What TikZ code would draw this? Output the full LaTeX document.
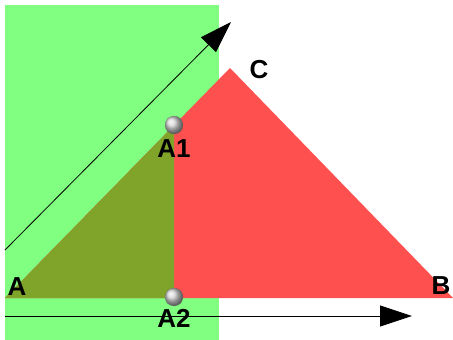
\documentclass[tikz,border=0pt]{standalone}
\usepackage{fontspec}
\setmainfont{Liberation Sans}
\usetikzlibrary{arrows.meta,shapes,positioning}
\definecolor{zonegreen}{HTML}{80FF80}
\definecolor{trired}{HTML}{FF5050}
\definecolor{overlap}{HTML}{80A42A}

\begin{document}
\begin{tikzpicture}[x=1pt, y=-1pt,
  lbl/.style={inner sep=0pt, font=\fontsize{26}{28}\selectfont\bfseries},
  ballpt/.style={circle, minimum size=18pt, inner sep=0pt, shading=ball, ball color=gray!35, draw=gray!60!black, densely dotted},
  axis/.style={line width=0.8pt, -{Triangle[length=32pt,width=21pt]}}]
  \useasboundingbox (0,0) rectangle (453,340);
  % region and triangle
  \fill[zonegreen] (5,5) rectangle (219,340);
  \coordinate (A) at (5,298);
  \coordinate (B) at (453,298);
  \coordinate (C) at (230,68);
  \fill[trired] (A) -- (B) -- (C) -- cycle;
  \fill[overlap] (A) -- (174,125.3) -- (174,298) -- cycle;
  % arrows
  \coordinate (d0) at (5,250);
  \coordinate (d1) at (231,22);
  \coordinate (h0) at (5,316);
  \coordinate (h1) at (412,316);
  \draw[axis] (d0) -- (d1);
  \draw[axis] (h0) -- (h1);
  % points
  \node[ballpt] (A1) at (174,125) {};
  \node[ballpt] (A2) at (174,297) {};
  \node[lbl] (lblA) at (17,287) {A};
  \node[lbl] (lblB) at (441,286) {B};
  \node[lbl] (lblC) at (259,70) {C};
  \node[lbl, below=5pt of A1] (lblA1) {A1};
  \node[lbl, below=3pt of A2] (lblA2) {A2};
\end{tikzpicture}
\end{document}
